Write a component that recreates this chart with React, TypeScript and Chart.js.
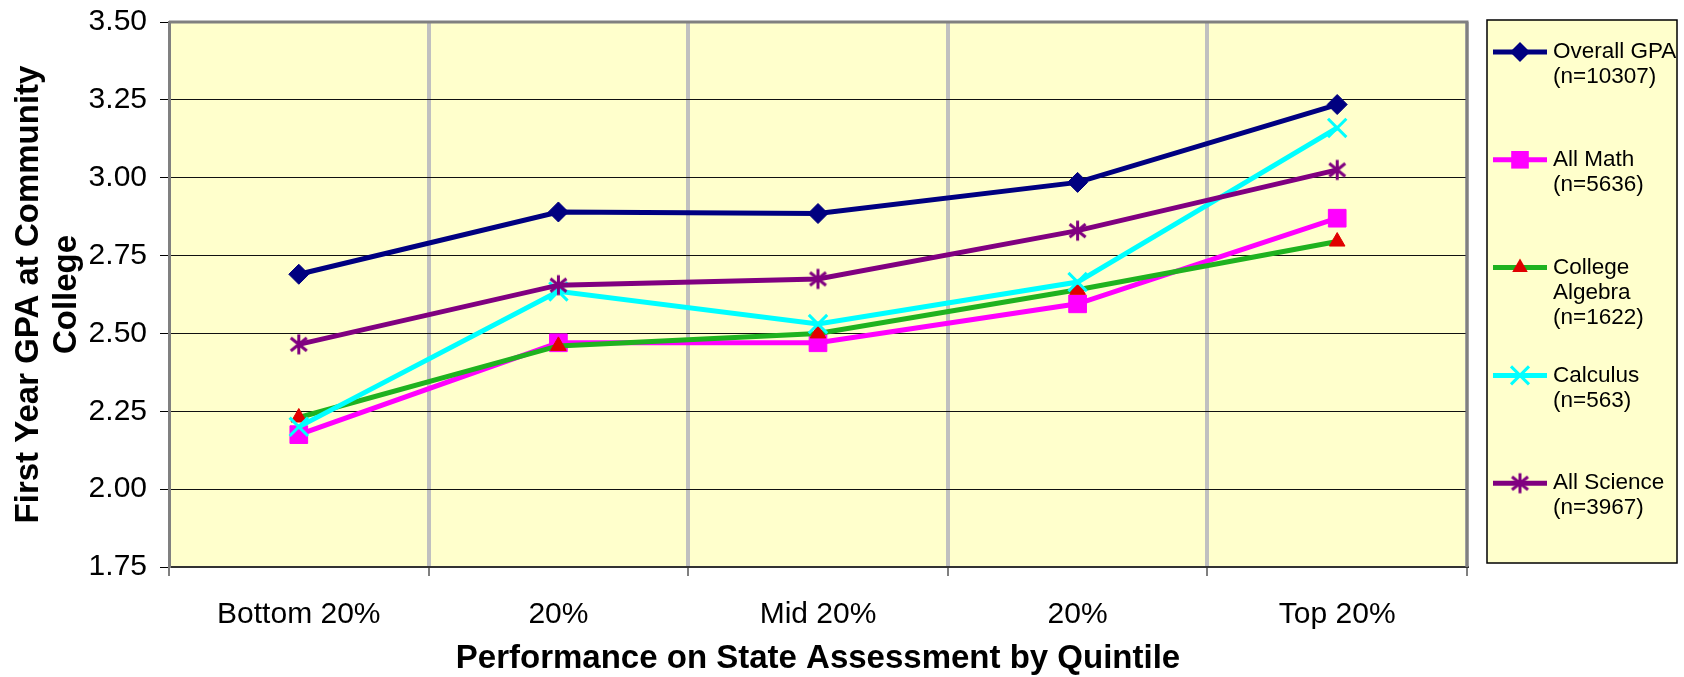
import React, { useEffect, useRef } from 'react';
import { Chart, registerables } from 'chart.js';

Chart.register(...registerables);

const FONT = "'Liberation Sans', Arial, Helvetica, sans-serif";

const categories = ['Bottom 20%', '20%', 'Mid 20%', '20%', 'Top 20%'];
const overallGPA = [2.69, 2.89, 2.885, 2.985, 3.235];
const allMath = [2.175, 2.47, 2.47, 2.595, 2.87];
const collegeAlgebra = [2.23, 2.46, 2.5, 2.64, 2.795];
const calculus = [2.2, 2.635, 2.53, 2.665, 3.16];
const allScience = [2.465, 2.655, 2.675, 2.83, 3.025];

const seriesLabels = ['Overall GPA', 'All Math', 'College Algebra', 'Calculus', 'All Science'];
const legendNameLines = [['Overall GPA'], ['All Math'], ['College', 'Algebra'], ['Calculus'], ['All Science']];
const sampleSizes = [10307, 5636, 1622, 563, 3967];

const yMin = 1.75;
const yMax = 3.5;
const yStep = 0.25;

const xTitle = 'Performance on State Assessment by Quintile';
const yTitle = ['First Year GPA at Community', 'College'];

function makeAsterisk(color: string, r: number, lw: number): HTMLCanvasElement {
  const size = Math.ceil(2 * r + lw + 2);
  const c = document.createElement('canvas');
  c.width = size;
  c.height = size;
  const g = c.getContext('2d')!;
  g.strokeStyle = color;
  g.lineWidth = lw;
  const cx = size / 2;
  const cy = size / 2;
  const dx = r * 0.8;
  const dy = r * 0.65;
  g.beginPath();
  g.moveTo(cx, cy - r);
  g.lineTo(cx, cy + r);
  g.moveTo(cx - dx, cy - dy);
  g.lineTo(cx + dx, cy + dy);
  g.moveTo(cx - dx, cy + dy);
  g.lineTo(cx + dx, cy - dy);
  g.stroke();
  return c;
}

type MarkerKind = 'diamond' | 'square' | 'triangle' | 'x' | 'asterisk';

function drawMarker(ctx: CanvasRenderingContext2D, kind: MarkerKind, x: number, y: number, color: string, img?: HTMLCanvasElement) {
  ctx.save();
  ctx.fillStyle = color;
  ctx.strokeStyle = color;
  ctx.beginPath();
  if (kind === 'diamond') {
    const r = 10;
    ctx.moveTo(x, y - r);
    ctx.lineTo(x + r, y);
    ctx.lineTo(x, y + r);
    ctx.lineTo(x - r, y);
    ctx.closePath();
    ctx.fill();
  } else if (kind === 'square') {
    const h = 8.8;
    ctx.rect(x - h, y - h, 2 * h, 2 * h);
    ctx.fill();
  } else if (kind === 'triangle') {
    const r = 9;
    ctx.moveTo(x, y - r);
    ctx.lineTo(x + r * 0.866, y + r * 0.5);
    ctx.lineTo(x - r * 0.866, y + r * 0.5);
    ctx.closePath();
    ctx.fill();
  } else if (kind === 'x') {
    const d = 9;
    ctx.lineWidth = 3;
    ctx.moveTo(x - d, y - d);
    ctx.lineTo(x + d, y + d);
    ctx.moveTo(x - d, y + d);
    ctx.lineTo(x + d, y - d);
    ctx.stroke();
  } else if (kind === 'asterisk' && img) {
    ctx.drawImage(img, x - img.width / 2, y - img.height / 2);
  }
  ctx.restore();
}

export default function App() {
  const ref = useRef<HTMLCanvasElement | null>(null);

  useEffect(() => {
    document.body.style.margin = '0';
    const canvas = ref.current!;
    const asterisk = makeAsterisk('#800080', 10, 3);

    const lineColors = ['#000080', '#FF00FF', '#1FB21F', '#00FFFF', '#800080'];
    const markerColors = ['#000080', '#FF00FF', '#E00000', '#00FFFF', '#800080'];
    const markerKinds: MarkerKind[] = ['diamond', 'square', 'triangle', 'x', 'asterisk'];
    const seriesData = [overallGPA, allMath, collegeAlgebra, calculus, allScience];
    const pointStyles: any[] = ['rectRot', 'rect', 'triangle', 'crossRot', asterisk];
    const pointRadii = [10, 12.5, 9, 13, 10];
    const pointBorderWidths = [1, 1, 1, 3, 1];

    const bgPlugin = {
      id: 'plotBg',
      beforeDraw(chart: any) {
        const { ctx, chartArea: a } = chart;
        ctx.save();
        ctx.fillStyle = '#FFFFCC';
        ctx.fillRect(a.left, a.top, a.right - a.left, a.bottom - a.top);
        ctx.restore();
      },
      beforeDatasetsDraw(chart: any) {
        const { ctx, chartArea: a } = chart;
        ctx.save();
        ctx.strokeStyle = '#808080';
        ctx.lineWidth = 3;
        ctx.beginPath();
        ctx.moveTo(a.left, a.top);
        ctx.lineTo(a.right, a.top);
        ctx.lineTo(a.right, a.bottom);
        ctx.stroke();
        ctx.restore();
      },
      afterDraw(chart: any) {
        const ctx: CanvasRenderingContext2D = chart.ctx;
        ctx.save();
        const bx = 1487, by = 20, bw = 190, bh = 543;
        ctx.fillStyle = '#FFFFCC';
        ctx.fillRect(bx, by, bw, bh);
        ctx.strokeStyle = '#000';
        ctx.lineWidth = 1.5;
        ctx.strokeRect(bx, by, bw, bh);
        ctx.font = `22.5px ${FONT}`;
        ctx.textBaseline = 'middle';
        ctx.textAlign = 'left';
        for (let i = 0; i < seriesLabels.length; i++) {
          const y = 52 + i * 107.8;
          ctx.strokeStyle = lineColors[i];
          ctx.lineWidth = 5;
          ctx.beginPath();
          ctx.moveTo(1493, y);
          ctx.lineTo(1547, y);
          ctx.stroke();
          drawMarker(ctx, markerKinds[i], 1520, y, markerColors[i], asterisk);
          const lines = [...legendNameLines[i], `(n=${sampleSizes[i]})`];
          ctx.fillStyle = '#000';
          lines.forEach((t, k) => ctx.fillText(t, 1553, y + k * 25));
        }
        ctx.restore();
      },
    };

    const chart = new Chart(canvas, {
      type: 'line',
      data: {
        labels: categories,
        datasets: seriesLabels.map((label, i) => ({
          label,
          data: seriesData[i],
          borderColor: lineColors[i],
          backgroundColor: markerColors[i],
          borderWidth: 5,
          tension: 0,
          fill: false,
          pointStyle: pointStyles[i],
          pointRadius: pointRadii[i],
          pointBackgroundColor: markerColors[i],
          pointBorderColor: markerColors[i],
          pointBorderWidth: pointBorderWidths[i],
          order: 5 - i,
        })),
      },
      options: {
        responsive: false,
        animation: false,
        devicePixelRatio: 1,
        layout: { padding: { top: 22, right: 217, left: 0, bottom: 0 } },
        plugins: {
          legend: { display: false },
          tooltip: { enabled: false },
        },
        scales: {
          x: {
            offset: true,
            afterFit: (s: any) => { s.height = 110; s.paddingLeft = 0; s.paddingRight = 0; },
            grid: {
              offset: true,
              color: (c: any) => (c.index === 0 || c.index === categories.length ? 'rgba(0,0,0,0)' : '#C0C0C0'),
              lineWidth: 4,
              tickColor: '#000',
              tickWidth: 1,
              tickLength: 9,
              drawTicks: true,
            },
            border: { color: '#333', width: 2 },
            ticks: {
              color: '#000',
              font: { family: FONT, size: 30 },
              padding: 21,
              maxRotation: 0,
              autoSkip: false,
            },
            title: {
              display: true,
              text: xTitle,
              color: '#000',
              font: { family: FONT, size: 33, weight: 'bold', lineHeight: 1.1 },
              padding: { top: 0, bottom: 0 },
            },
          },
          y: {
            min: yMin,
            max: yMax,
            afterFit: (s: any) => { s.width = 169; s.paddingTop = 0; s.paddingBottom = 0; },
            grid: {
              color: '#111',
              lineWidth: 1,
              tickLength: 9,
              tickColor: '#000',
            },
            border: { color: '#808080', width: 3 },
            ticks: {
              stepSize: yStep,
              color: '#000',
              font: { family: FONT, size: 30 },
              padding: 13,
              callback: (v: any) => Number(v).toFixed(2),
            },
            title: {
              display: true,
              text: yTitle,
              color: '#000',
              font: { family: FONT, size: 33, weight: 'bold', lineHeight: 1.15 },
              padding: { top: 10, bottom: 0 },
            },
          },
        },
      },
      plugins: [bgPlugin],
    } as any);

    return () => chart.destroy();
  }, []);

  return (
    <div style={{ position: 'absolute', left: 0, top: 0, width: 1684, height: 677 }}>
      <canvas ref={ref} width={1684} height={677} style={{ display: 'block' }} />
    </div>
  );
}
